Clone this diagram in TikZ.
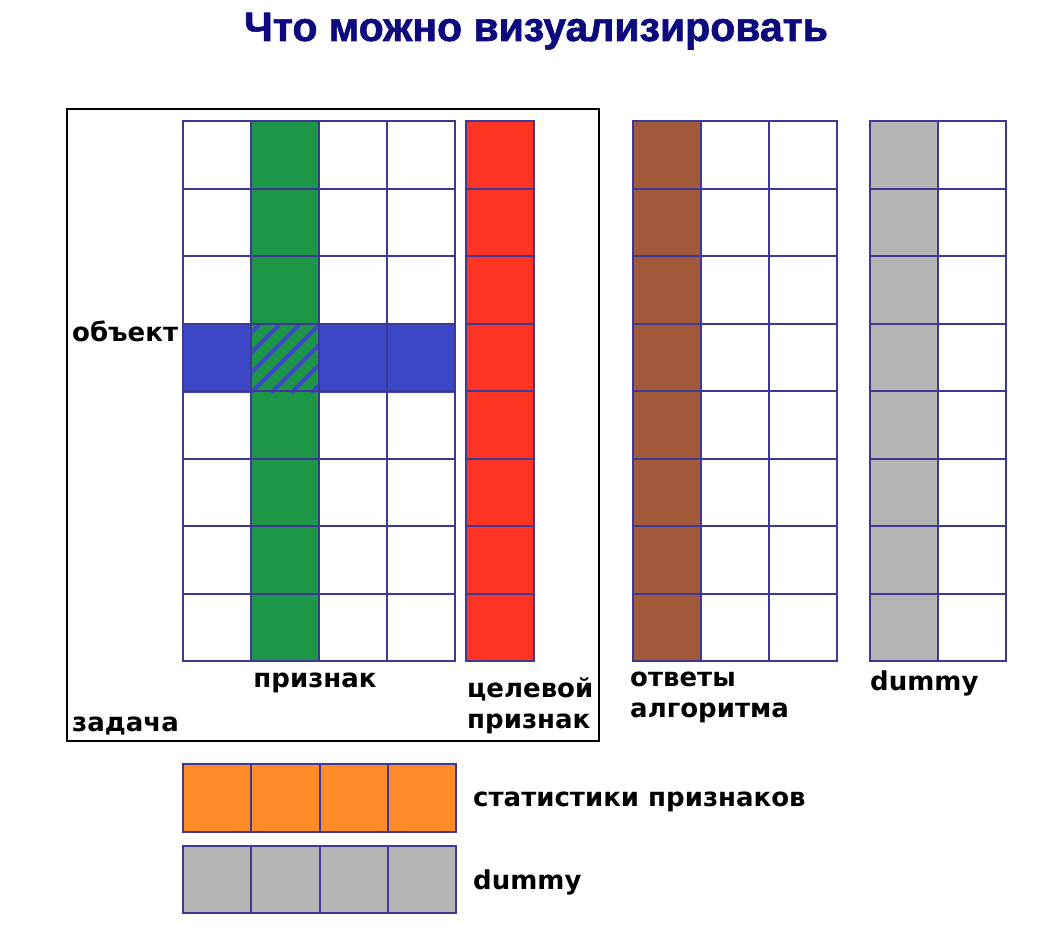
\documentclass[tikz,border=0pt]{standalone}
\usepackage{fontspec}
\setmainfont{DejaVu Sans}
\newfontfamily\titlefont[FakeBold=1.5]{Liberation Sans}
\usetikzlibrary{positioning}
\definecolor{gridline}{RGB}{62,56,150}
\definecolor{titleblue}{RGB}{12,10,125}
\definecolor{featgreen}{RGB}{30,150,72}
\definecolor{objblue}{RGB}{60,72,200}
\definecolor{targetred}{RGB}{255,52,34}
\definecolor{answerbrown}{RGB}{160,90,58}
\definecolor{dummygray}{RGB}{180,180,180}
\definecolor{statorange}{RGB}{255,140,40}

\begin{document}
\begin{tikzpicture}[x=1pt, y=-1pt,
  every node/.style={font=\fontsize{26}{31}\selectfont\bfseries, inner sep=0pt},
  cell/.style={draw=gridline, line width=2pt}]
\useasboundingbox[fill=white] (0,0) rectangle (1055,939);
% Title
\node[font=\titlefont\fontsize{41}{44}\selectfont\bfseries, text=titleblue, anchor=base] (title) at (536,41) {Что можно визуализировать};
% Task frame
\draw[black, line width=2pt] (67,109) rectangle (599,741);
% Feature matrix: one feature column, one object row
\fill[featgreen] (251,121) rectangle (319,661);
\fill[objblue] (183,325) rectangle (455,393);
\fill[featgreen] (251,325) rectangle (319,393);
\begin{scope}
\clip (251,325) rectangle (319,393);
\foreach \s in {-80,-60,...,80}
  \draw[objblue, line width=4pt] (251+\s,393) -- (319+\s,325);
\end{scope}
\foreach \c in {0,...,3}
  \foreach \r in {0,...,7}
    \draw[cell] (183+68*\c,121+67.5*\r) rectangle ++(68,67.5);
% Target column
\foreach \r in {0,...,7}
  \draw[cell, fill=targetred] (466,121+67.5*\r) rectangle ++(68,67.5);
% Algorithm answers
\foreach \c in {0,...,2}
  \foreach \r in {0,...,7}
    \draw[cell] (633+68*\c,121+67.5*\r) rectangle ++(68,67.5);
\foreach \r in {0,...,7}
  \draw[cell, fill=answerbrown] (633,121+67.5*\r) rectangle ++(68,67.5);
% Dummy column
\foreach \c in {0,1}
  \foreach \r in {0,...,7}
    \draw[cell] (870+68*\c,121+67.5*\r) rectangle ++(68,67.5);
\foreach \r in {0,...,7}
  \draw[cell, fill=dummygray] (870,121+67.5*\r) rectangle ++(68,67.5);
% Feature statistics and dummy rows
\foreach \c in {0,...,3} {
  \draw[cell, fill=statorange] (183+68.25*\c,764) rectangle ++(68.25,68);
  \draw[cell, fill=dummygray] (183+68.25*\c,846) rectangle ++(68.25,67);
}
% Labels
\node[anchor=base west] (object) at (72,341) {объект};
\node[anchor=base] (feature) at (315,687) {признак};
\node[anchor=base west, align=left] (target) at (467,728) {целевой\\признак};
\node[anchor=base west] (task) at (72,731) {задача};
\node[anchor=base west, align=left] (answers) at (630,717) {ответы\\алгоритма};
\node[anchor=base west] (dummycol) at (870,690) {dummy};
\node[anchor=base west] (stats) at (473,806) {статистики признаков};
\node[anchor=base west] (dummyrow) at (473,889) {dummy};
\end{tikzpicture}
\end{document}
